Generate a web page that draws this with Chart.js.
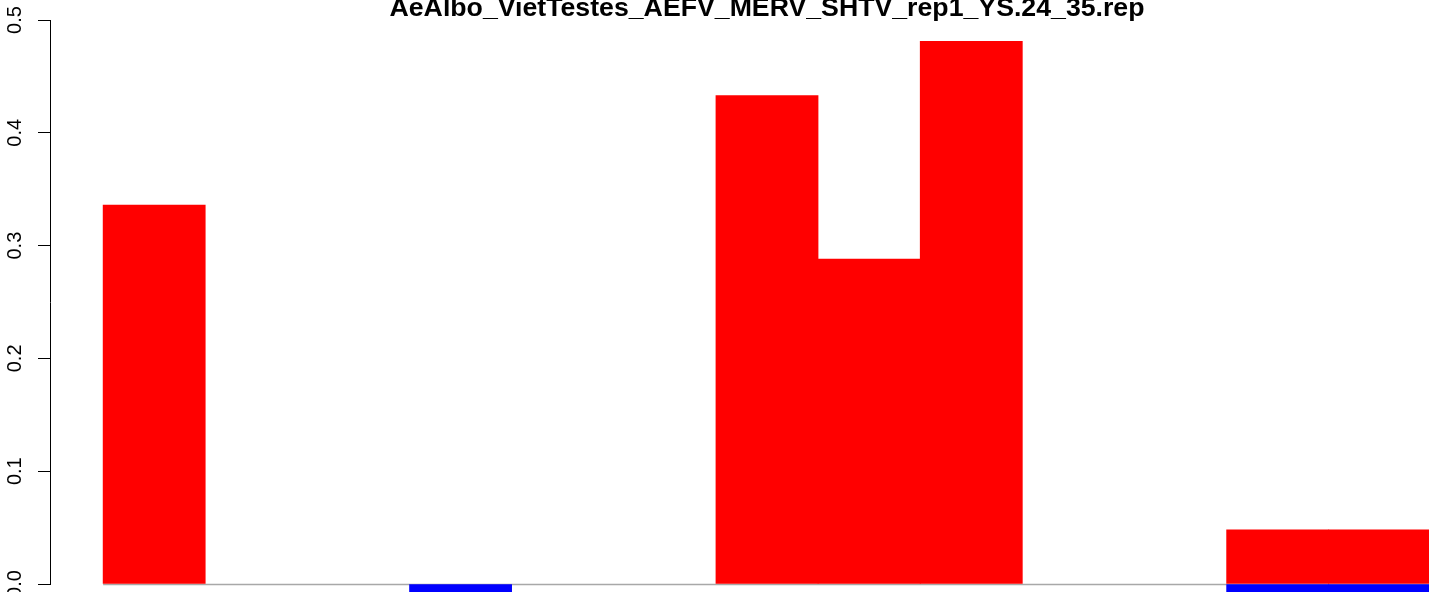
<!DOCTYPE html>
<html>
<head>
<meta charset="utf-8">
<script src="https://cdn.jsdelivr.net/npm/chart.js@4/dist/chart.umd.min.js"></script>
<style>
  html, body { margin: 0; padding: 0; background: #fff; overflow: hidden; }
  #wrap { width: 1534px; height: 592px; }
</style>
</head>
<body>
<div id="wrap"><canvas id="myChart"></canvas></div>
<script>
  // one value per bar slot, 13 slots side by side (space = 0)
  const slots = [0.5, 1.5, 2.5, 3.5, 4.5, 5.5, 6.5, 7.5, 8.5, 9.5, 10.5, 11.5, 12.5];
  const upValues = [0.336, 0, 0, 0, 0, 0, 0.433, 0.288, 0.481, 0, 0, 0.048, 0.048];
  const downValues = [0, 0, 0, -0.02, 0, 0, 0, 0, 0, 0, 0, -0.02, -0.02];
  const yTicks = [0, 0.1, 0.2, 0.3, 0.4, 0.5];
  const chartTitle = "AeAlbo_VietTestes_AEFV_MERV_SHTV_rep1_YS.24_35.rep";

  const FONT = "'Liberation Sans', Arial, sans-serif";

  // gray zero line under the bars, R style rotated tick labels, title
  const rStyle = {
    id: "rStyle",
    beforeDatasetsDraw(chart) {
      const x = chart.scales.x, y = chart.scales.y;
      const ctx = chart.ctx;
      const py = y.getPixelForValue(0) + 0.5;
      ctx.save();
      ctx.strokeStyle = "#a8a8a8";
      ctx.lineWidth = 1.6;
      ctx.beginPath();
      ctx.moveTo(x.getPixelForValue(0), py);
      ctx.lineTo(x.getPixelForValue(slots.length), py);
      ctx.stroke();
      ctx.restore();
    },
    afterDraw(chart) {
      const y = chart.scales.y;
      const ctx = chart.ctx;
      ctx.save();
      ctx.fillStyle = "#000";
      ctx.font = "20px " + FONT;
      ctx.textAlign = "center";
      ctx.textBaseline = "middle";
      yTicks.forEach((v) => {
        ctx.save();
        ctx.translate(15, y.getPixelForValue(v));
        ctx.rotate(-Math.PI / 2);
        ctx.fillText(v.toFixed(1), 0, 0);
        ctx.restore();
      });
      const area = chart.chartArea;
      ctx.font = "bold 26.7px " + FONT;
      ctx.textBaseline = "alphabetic";
      ctx.fillText(chartTitle, (area.left + area.right) / 2, 16);
      ctx.restore();
    }
  };

  const toPoints = (vals) => vals.map((v, i) => ({ x: slots[i], y: v === 0 ? null : v }));

  new Chart(document.getElementById("myChart"), {
    type: "bar",
    data: {
      datasets: [
        {
          label: "up",
          data: toPoints(upValues),
          backgroundColor: "#ff0000",
          borderWidth: 0,
          barPercentage: 1,
          categoryPercentage: 1,
          clip: false,
        },
        {
          label: "down",
          data: toPoints(downValues),
          backgroundColor: "#0000ff",
          borderWidth: 0,
          barPercentage: 1,
          categoryPercentage: 1,
          clip: false,
        },
      ],
    },
    options: {
      responsive: true,
      maintainAspectRatio: false,
      animation: false,
      layout: { padding: { top: 20, bottom: 8, left: 0, right: 50 } },
      plugins: {
        legend: { display: false },
        tooltip: { enabled: false },
        title: { display: false },
      },
      scales: {
        x: {
          type: "linear",
          display: false,
          offset: false,
          stacked: true,
          min: -0.52,
          max: slots.length + 0.52,
        },
        y: {
          stacked: true,
          min: 0,
          max: 0.5,
          afterFit(scale) { scale.width = 50; },
          afterBuildTicks(scale) { scale.ticks = yTicks.map((v) => ({ value: v })); },
          border: { display: true, color: "#000", width: 1 },
          grid: { drawOnChartArea: false, drawTicks: true, tickLength: 12, color: "#000", lineWidth: 1 },
          ticks: { display: false },
        },
      },
    },
    plugins: [rStyle],
  });
</script>
</body>
</html>
